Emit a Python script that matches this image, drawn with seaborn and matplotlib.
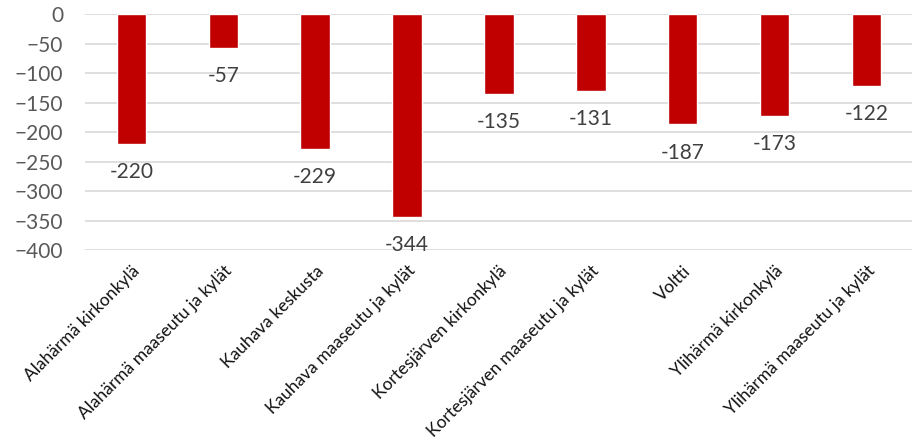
import matplotlib
matplotlib.use("Agg")
import matplotlib.pyplot as plt
import seaborn as sns
import pandas as pd

# Values
areas = [
    "Alahärmä kirkonkylä",
    "Alahärmä maaseutu ja kylät",
    "Kauhava keskusta",
    "Kauhava maaseutu ja kylät",
    "Kortesjärven kirkonkylä",
    "Kortesjärven maaseutu ja kylät",
    "Voltti",
    "Ylihärmä kirkonkylä",
    "Ylihärmä maaseutu ja kylät",
]
change = [-220, -57, -229, -344, -135, -131, -187, -173, -122]

df = pd.DataFrame({"area": areas, "change": change})

sns.set_style("white")
plt.rcParams["font.family"] = ["Lato", "DejaVu Sans"]

fig = plt.figure(figsize=(9.18, 4.42), dpi=100)
ax = fig.add_axes([0.093, 0.434, 0.901, 0.534])

sns.barplot(data=df, x="area", y="change", color="#C00000", width=0.32,
            saturation=1, ax=ax, zorder=3)

ax.set_ylim(-400, 0)
ax.set_yticks(range(-400, 1, 50))
ax.set_xlim(-0.5, len(areas) - 0.5)
ax.grid(axis="y", color="#D9D9D9", linewidth=1.2, zorder=0)
for s in ax.spines.values():
    s.set_visible(False)
ax.set_xlabel("")
ax.set_ylabel("")
ax.tick_params(axis="y", length=0, labelsize=15, labelcolor="#595959", pad=16)
ax.tick_params(axis="x", length=0, pad=9)
ax.set_xticks(range(len(areas)))
ax.set_xticklabels(areas, rotation=45, ha="right", rotation_mode="anchor",
                   fontsize=12.5, color="#111111")

for i, v in enumerate(change):
    ax.annotate(str(v), (i, v), xytext=(0, -13), textcoords="offset points",
                ha="center", va="top", fontsize=15, color="#404040",
                annotation_clip=False)

fig.savefig("out.png", dpi=100)
